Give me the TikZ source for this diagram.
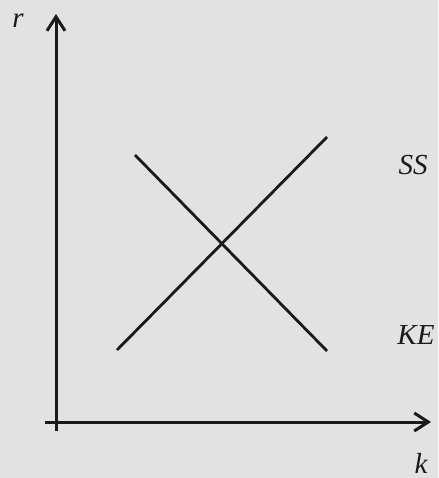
\documentclass[tikz,border=0pt]{standalone}
\usepackage{fontspec}
\setmainfont{Liberation Serif}
\usetikzlibrary{arrows.meta}
\definecolor{bg}{HTML}{E2E2E2}
\definecolor{ink}{HTML}{1A1A1A}
\begin{document}
\begin{tikzpicture}[x=1pt,y=-1pt,
  axis/.style={draw=ink,line width=3pt,-{Straight Barb[length=14pt,width=18pt,line width=3pt]}},
  curve/.style={draw=ink,line width=2.8pt},
  lbl/.style={font=\itshape\fontsize{29}{29}\selectfont,text=ink,inner sep=0pt}]
\fill[bg] (0,0) rectangle (438,478);
\useasboundingbox (0,0) rectangle (438,478);
\coordinate (ytop) at (56,14);
\coordinate (ybot) at (56,431);
\coordinate (xleft) at (45,422);
\coordinate (xright) at (431,422);
\draw[axis] (ybot) -- (ytop);
\draw[axis] (xleft) -- (xright);
\coordinate (a1) at (117,350);
\coordinate (a2) at (327,137);
\coordinate (b1) at (135,155);
\coordinate (b2) at (327,351);
\draw[curve] (a1) -- (a2);
\draw[curve] (b1) -- (b2);
\node[lbl] (r) at (18,21) {r};
\node[lbl] (k) at (421,463) {k};
\node[lbl] (ss) at (413,165) {SS};
\node[lbl] (ke) at (416,335) {KE};
\end{tikzpicture}
\end{document}
